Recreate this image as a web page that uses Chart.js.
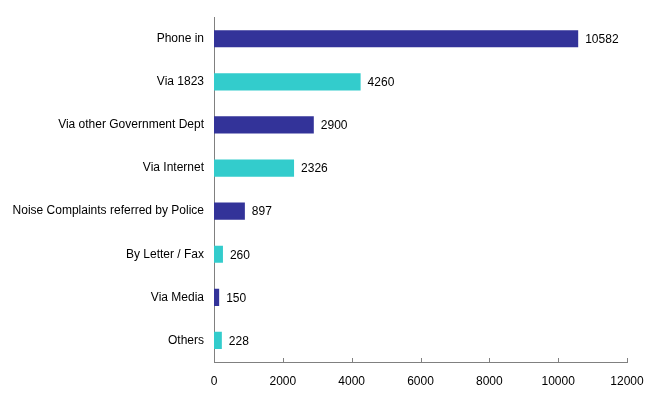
<!DOCTYPE html>
<html>
<head>
<meta charset="utf-8">
<script src="https://cdn.jsdelivr.net/npm/chart.js@4"></script>
<style>
  html, body { margin: 0; padding: 0; background: #fff; }
  #wrap { width: 660px; height: 409px; }
</style>
</head>
<body>
<div id="wrap"><canvas id="chart" width="660" height="409"></canvas></div>
<script>
const categories = ['Phone in', 'Via 1823', 'Via other Government Dept', 'Via Internet',
    'Noise Complaints referred by Police', 'By Letter / Fax', 'Via Media', 'Others'];
const complaints = [10582, 4260, 2900, 2326, 897, 260, 150, 228];
const barColors = ['#333399', '#33CCCC', '#333399', '#33CCCC', '#333399', '#33CCCC', '#333399', '#33CCCC'];
const xTicks = [0, 2000, 4000, 6000, 8000, 10000, 12000];

const FONT = { family: 'Liberation Sans, Arial, sans-serif', size: 12 };

// value labels at the end of each bar
const valueLabels = {
    id: 'valueLabels',
    afterDatasetsDraw(chart) {
        const ctx = chart.ctx;
        const meta = chart.getDatasetMeta(0);
        ctx.save();
        ctx.font = FONT.size + 'px ' + FONT.family;
        ctx.fillStyle = '#000';
        ctx.textBaseline = 'middle';
        ctx.textAlign = 'left';
        meta.data.forEach((bar, i) => {
            ctx.fillText(String(complaints[i]), bar.x + 7, bar.y + 1);
        });
        ctx.restore();
    }
};

// small tick marks pointing up from the x axis
const innerTicks = {
    id: 'innerTicks',
    afterDraw(chart) {
        const ctx = chart.ctx;
        const x = chart.scales.x;
        const axisY = x.top;
        ctx.save();
        ctx.strokeStyle = '#808080';
        ctx.lineWidth = 1;
        xTicks.forEach(v => {
            const px = Math.round(x.getPixelForValue(v)) + 0.5;
            ctx.beginPath();
            ctx.moveTo(px, axisY);
            ctx.lineTo(px, axisY - 4);
            ctx.stroke();
        });
        ctx.restore();
    }
};

new Chart(document.getElementById('chart').getContext('2d'), {
    type: 'bar',
    data: {
        labels: categories,
        datasets: [{
            data: complaints,
            backgroundColor: barColors,
            borderWidth: 0,
            categoryPercentage: 0.4,
            barPercentage: 1
        }]
    },
    options: {
        indexAxis: 'y',
        responsive: false,
        animation: false,
        layout: { padding: { top: 15, right: 33, left: 0, bottom: 0 } },
        plugins: { legend: { display: false }, tooltip: { enabled: false } },
        scales: {
            x: {
                min: 0,
                max: 12000,
                afterBuildTicks: s => { s.ticks = xTicks.map(v => ({ value: v })); },
                afterFit: s => { s.height = 47; },
                grid: { display: false, drawTicks: false },
                border: { display: true, color: '#808080', width: 1 },
                ticks: { color: '#000', font: FONT, padding: 12, maxRotation: 0,
                         callback: v => String(v) }
            },
            y: {
                afterFit: s => { s.width = 214; },
                grid: { display: false, drawTicks: false },
                border: { display: true, color: '#808080', width: 1 },
                ticks: { color: '#000', font: FONT, padding: 10 }
            }
        }
    },
    plugins: [valueLabels, innerTicks]
});
</script>
</body>
</html>
